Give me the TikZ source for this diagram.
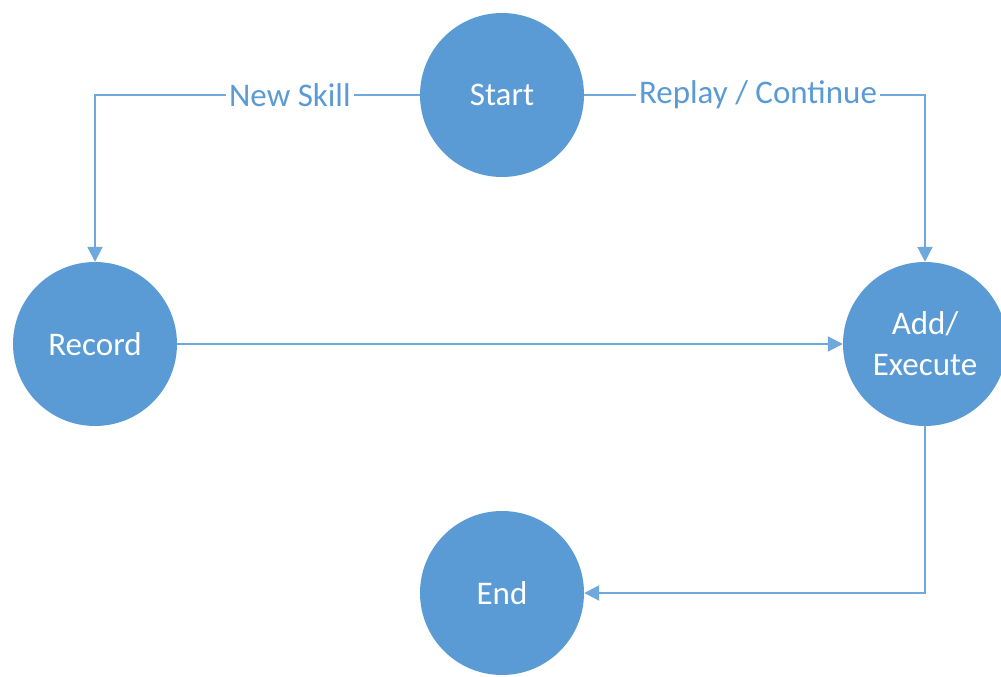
\documentclass[tikz,border=0pt]{standalone}
\usepackage{fontspec}
\setmainfont{Carlito}
\usetikzlibrary{arrows.meta}
\definecolor{stateblue}{HTML}{5B9BD5}
\definecolor{wireblue}{HTML}{6FA8DC}
\begin{document}
\begin{tikzpicture}[x=1pt,y=-1pt,
  state/.style={circle, fill=stateblue, minimum size=164pt, inner sep=0pt,
    text=white, align=center, font=\fontsize{33}{41}\selectfont},
  wire/.style={draw=wireblue, line width=2pt,
    -{Triangle[length=15pt,width=15pt]}},
  tag/.style={fill=white, text=stateblue, inner sep=3pt,
    font=\fontsize{33}{40}\selectfont}]
\useasboundingbox (0,0) rectangle (1001,677);
\node[state] (start)  at (502,95)  {Start};
\node[state] (record) at (95,344)  {Record};
\node[state] (exec)   at (925,344) {Add/\\Execute};
\node[state] (end)    at (502,593) {End};

\draw[wire] (start.west) -| node[tag, pos=0.2] {New Skill} (record.north);
\draw[wire] (start.east) -| node[tag, pos=0.255] {Replay / Continue} (exec.north);
\draw[wire] (record.east) -- (exec.west);
\draw[wire] (exec.south) |- (end.east);
\end{tikzpicture}
\end{document}
